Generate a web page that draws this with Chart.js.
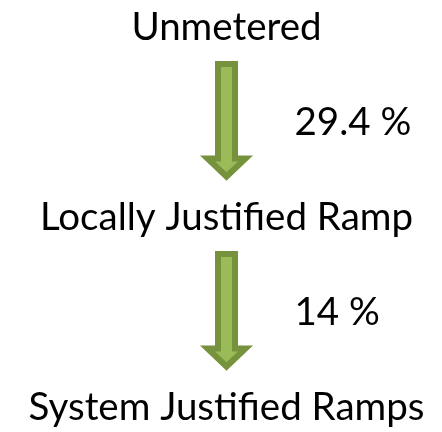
<!DOCTYPE html>
<html lang="en">
<head>
<meta charset="UTF-8">
<title>Ramp justification</title>
<script src="https://cdn.jsdelivr.net/npm/chart.js@4.4.0/dist/chart.umd.min.js"></script>
<style>
  html, body { margin: 0; padding: 0; background: #fff; }
</style>
</head>
<body>
<canvas id="myChart" width="442" height="432"></canvas>
<script>
// stages of the flow, top to bottom
const stages = ['Unmetered', 'Locally Justified Ramp', 'System Justified Ramps'];
// share moving from one stage to the next
const stepPercents = [29.4, 14];

const FONT = '38.5px Lato';
const arrowDark = '#76923c';
const arrowLight = '#9bbb59';

function drawArrow(ctx, cx, top, bottom) {
  const lw = 6;
  const hw = 8.5;      // shaft half width (path)
  const hh = 19;       // head half width (path)
  const y0 = top + lw / 2;
  const tip = bottom - 4.5;
  const headY = tip - 18;
  ctx.save();
  ctx.beginPath();
  ctx.moveTo(cx - hw, y0);
  ctx.lineTo(cx + hw, y0);
  ctx.lineTo(cx + hw, headY);
  ctx.lineTo(cx + hh, headY);
  ctx.lineTo(cx, tip);
  ctx.lineTo(cx - hh, headY);
  ctx.lineTo(cx - hw, headY);
  ctx.closePath();
  ctx.fillStyle = arrowLight;
  ctx.fill();
  ctx.lineWidth = lw;
  ctx.lineJoin = 'miter';
  ctx.strokeStyle = arrowDark;
  ctx.stroke();
  ctx.restore();
}

const flowPlugin = {
  id: 'flow',
  afterDatasetsDraw(chart) {
    const ctx = chart.ctx;
    const pts = chart.getDatasetMeta(0).data;
    ctx.save();
    ctx.font = FONT;
    ctx.fillStyle = '#000';
    ctx.textBaseline = 'alphabetic';
    pts.forEach((p, i) => {
      ctx.textAlign = 'center';
      ctx.fillText(stages[i], p.x, p.y + 13.5);
      if (i < pts.length - 1) {
        const q = pts[i + 1];
        const mid = (p.y + q.y) / 2;
        drawArrow(ctx, p.x, mid - 60, mid + 60);
        ctx.textAlign = 'left';
        ctx.fillText(stepPercents[i] + ' %', p.x + 68, mid + 13.5);
      }
    });
    ctx.restore();
  }
};

new Chart(document.getElementById('myChart'), {
  type: 'scatter',
  data: {
    datasets: [{
      data: stages.map((s, i) => ({ x: 0, y: i })),
      pointRadius: 0
    }]
  },
  options: {
    responsive: false,
    animation: false,
    layout: { padding: { top: 26, bottom: 26, left: 11, right: 0 } },
    plugins: { legend: { display: false }, tooltip: { enabled: false } },
    scales: {
      x: { display: false, min: -1, max: 1 },
      y: { display: false, min: 0, max: stages.length - 1, reverse: true }
    }
  },
  plugins: [flowPlugin]
});
</script>
</body>
</html>
